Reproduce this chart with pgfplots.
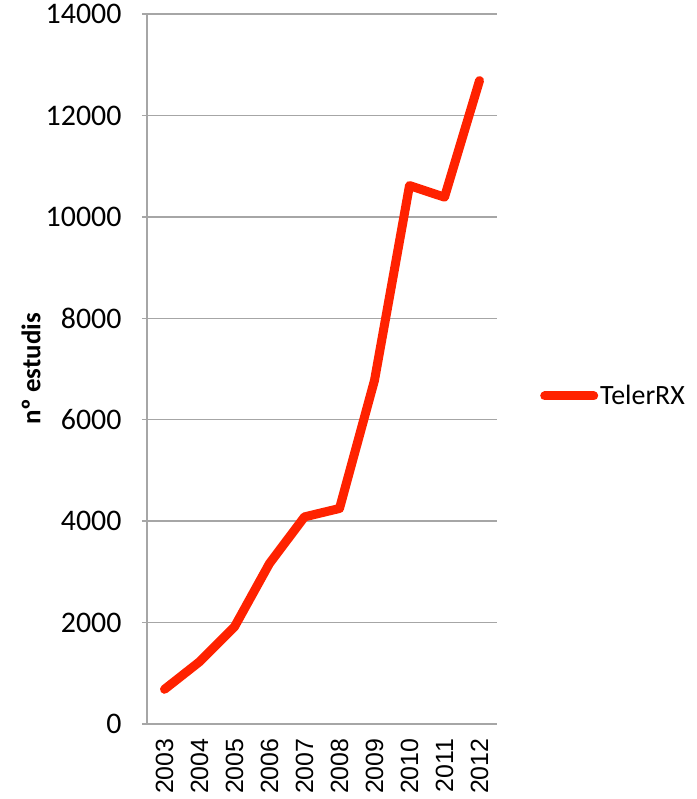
\documentclass[border=0pt]{standalone}
\usepackage{fontspec}
\setmainfont{Liberation Sans}
\newfontfamily\calibri{Carlito}
\usepackage{pgfplots}
\pgfplotsset{compat=1.18}
\definecolor{linered}{HTML}{FF2200}
\definecolor{gridgray}{HTML}{A6A6A6}

\begin{document}
\begin{tikzpicture}
\begin{axis}[name=ax, scale only axis, width=350bp, height=710bp,
    xmin=-0.5, xmax=9.5, ymin=0, ymax=14000,
    xtick={0,...,9},
    xticklabels={2003,2004,2005,2006,2007,2008,2009,2010,2011,2012},
    ytick={0,2000,...,14000},
    axis lines=left,
    axis line style={gridgray, line width=1.5bp, -},
    ymajorgrids, major grid style={gridgray, line width=1.5bp},
    xtick style={draw=none},
    ytick style={gridgray, line width=1.5bp},
    tick align=outside, major tick length=5bp,
    scaled y ticks=false,
    /pgf/number format/1000 sep={},
    /pgf/number format/assume math mode=true,
    xticklabel style={font=\fontsize{25}{25}\selectfont, rotate=90, anchor=east, xshift=-6bp},
    yticklabel style={font=\calibri\fontsize{30}{30}\selectfont, xshift=-17bp},
    ylabel={\calibri\bfseries nº estudis},
    ylabel style={at={(rel axis cs:0,0.5)}, anchor=center, yshift=116bp,
        font=\fontsize{27}{27}\selectfont},
    legend style={at={(rel axis cs:1,0.5)}, anchor=west, xshift=43bp, yshift=-27bp,
        draw=none, fill=none, inner sep=0pt,
        /tikz/every even column/.append style={column sep=0pt},
        font=\calibri\fontsize{28}{28}\selectfont},
    legend image code/.code={\draw[#1, line cap=round] (4.5bp,0bp) -- (53.5bp,0bp);},
]
\addplot[linered, line width=9bp, line cap=round, line join=round] coordinates {
    (0,684) (1,1227) (2,1917) (3,3166) (4,4084) (5,4250)
    (6,6777) (7,10618) (8,10388) (9,12687)
};
\addlegendentry{TelerRX}
\end{axis}
\pgfresetboundingbox
\path ([shift={(-147bp,-75bp)}]ax.south west) rectangle ([shift={(550bp,724bp)}]ax.south west);
\end{tikzpicture}
\end{document}
